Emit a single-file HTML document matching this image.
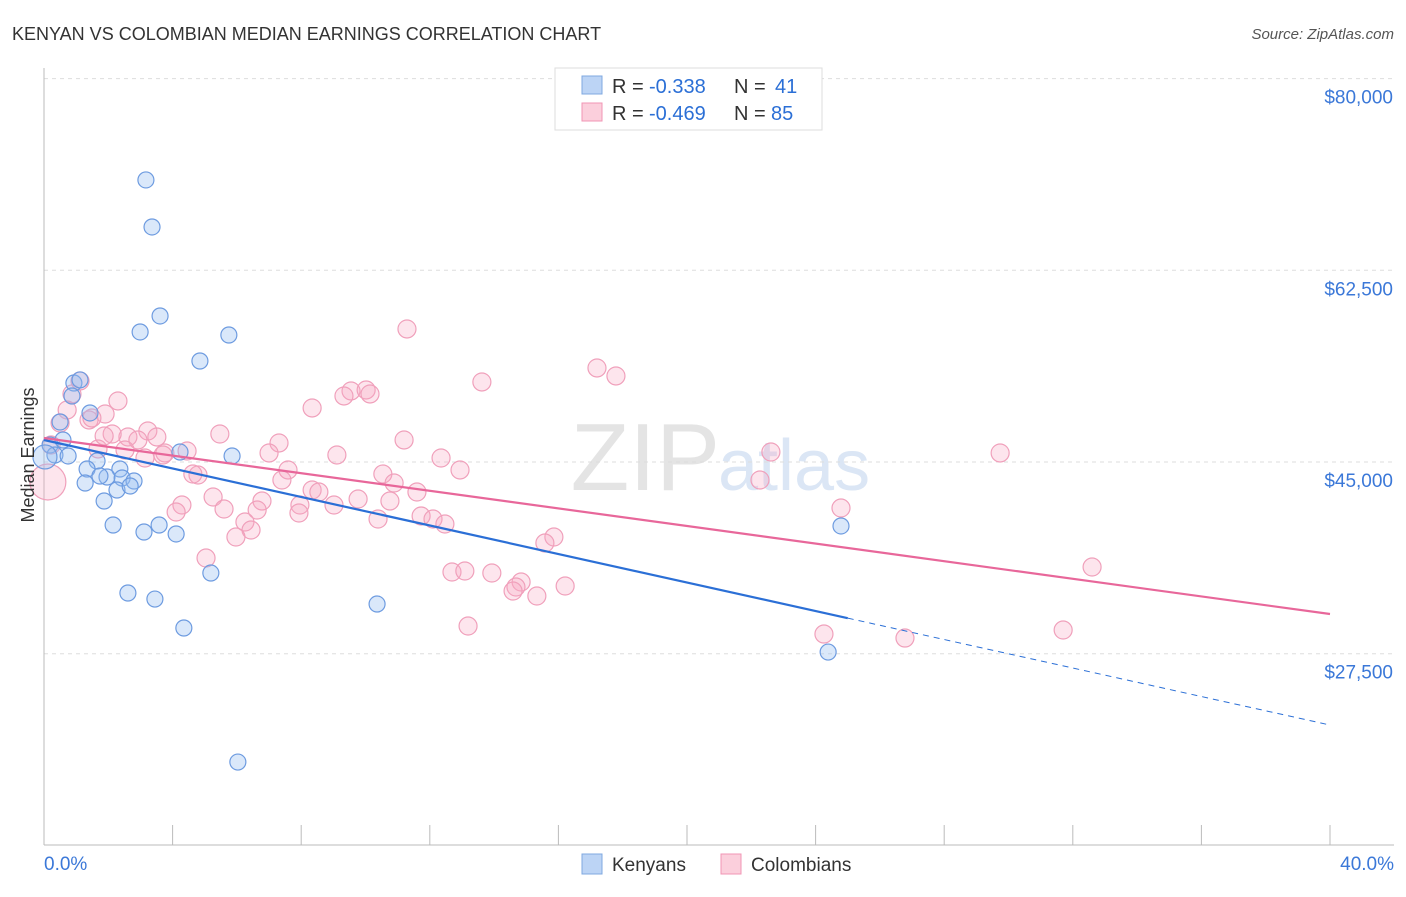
<!DOCTYPE html>
<html><head><meta charset="utf-8"><style>
body{margin:0;background:#fff;font-family:"Liberation Sans",sans-serif;}
svg text{font-family:"Liberation Sans",sans-serif;}
</style></head><body>
<svg id="c" width="1406" height="892" xmlns="http://www.w3.org/2000/svg">
<text x="12" y="40" font-size="18" fill="#333">KENYAN VS COLOMBIAN MEDIAN EARNINGS CORRELATION CHART</text>
<text x="1394" y="39" font-size="15" fill="#555" text-anchor="end" font-style="italic">Source: ZipAtlas.com</text>
<text x="720" y="490" font-size="96" fill="#e4e4e4" text-anchor="end" font-family="Liberation Serif">ZIP</text>
<text x="718" y="490" font-size="72" fill="#dbe6f5">atlas</text>
<g id="grid"></g><g id="axes"></g><g id="marks"></g>
<text transform="translate(34,455) rotate(-90)" font-size="18" fill="#333" text-anchor="middle">Median Earnings</text>
<g>
<rect x="555" y="68" width="267" height="62" fill="#fff" stroke="#ddd"/>
<rect x="582" y="76" width="20" height="18" fill="#bcd4f5" stroke="#7fa8e0"/>
<rect x="582" y="103" width="20" height="18" fill="#fbcfdc" stroke="#f095b4"/>
<text x="612" y="93" font-size="20" fill="#333">R =</text>
<text x="649" y="93" font-size="20" fill="#2b6fd6">-0.338</text>
<text x="734" y="93" font-size="20" fill="#333">N =</text>
<text x="775" y="93" font-size="20" fill="#2b6fd6">41</text>
<text x="612" y="120" font-size="20" fill="#333">R =</text>
<text x="649" y="120" font-size="20" fill="#2b6fd6">-0.469</text>
<text x="734" y="120" font-size="20" fill="#333">N =</text>
<text x="771" y="120" font-size="20" fill="#2b6fd6">85</text>
</g>
<g>
<rect x="582" y="854" width="20" height="20" fill="#bcd4f5" stroke="#7fa8e0"/>
<text x="612" y="871" font-size="19" fill="#333">Kenyans</text>
<rect x="721" y="854" width="20" height="20" fill="#fbcfdc" stroke="#f095b4"/>
<text x="751" y="871" font-size="19" fill="#333">Colombians</text>
</g>
</svg>
<script>
const yTicks=[80000,62500,45000,27500];
const yTickLabels=["$80,000","$62,500","$45,000","$27,500"];
const kenX=[3.17,3.36,3.61,2.99,5.75,4.85,0.93,1.12,0.87,1.43,0.50,0.19,0.59,0.34,0.75,4.23,5.85,1.65,1.34,2.36,1.28,1.96,2.43,2.80,1.74,2.27,2.68,1.87,2.15,3.11,3.58,4.11,5.19,2.61,3.45,4.35,10.36,6.03,24.79,24.39,0.03];
const kenY=[70747,66455,58330,56870,56595,54220,52210,52490,51025,49475,48650,46550,47010,45640,45550,45910,45550,45090,44360,44360,43080,43630,43540,43265,43720,42445,42810,41440,39250,38610,39250,38430,34865,33040,32490,29845,32035,17610,39160,27650,45460];
const colPx=[[407,329],[597,368],[616,376],[482,382],[351,391],[366,390],[344,396],[370,394],[312,408],[80,381],[72,394],[118,401],[67,410],[105,414],[89,420],[60,423],[92,418],[148,431],[220,434],[128,437],[112,434],[138,440],[157,437],[404,440],[279,443],[98,449],[125,450],[165,453],[187,451],[337,455],[441,458],[269,453],[771,452],[1000,453],[145,458],[288,470],[198,475],[193,474],[460,470],[383,474],[282,480],[394,483],[417,492],[312,490],[319,492],[358,499],[262,501],[213,497],[390,501],[300,505],[334,505],[182,505],[176,512],[224,509],[299,513],[257,510],[421,516],[378,519],[433,519],[445,524],[245,522],[251,530],[236,537],[206,558],[554,537],[545,543],[760,480],[841,508],[452,572],[465,571],[492,573],[521,582],[516,587],[513,591],[537,596],[565,586],[1092,567],[468,626],[824,634],[905,638],[1063,630],[48,482],[51,445],[163,455],[104,436]];
const colX=colPx.map(p=>+((p[0]-44)/32.15).toFixed(2));
const colY=colPx.map(p=>Math.round(45000+(462-p[1])*91.3));
const kenTrend=[47009,20988], kenSolidEnd=25.0;
const colTrend=[47191,31122];
const sx=p=>44+p/40*1286;
const sy=v=>462-(v-45000)/17500*191.7;
const NS="http://www.w3.org/2000/svg";
function mk(tag,attrs,parent){const e=document.createElementNS(NS,tag);for(const k in attrs)e.setAttribute(k,attrs[k]);document.getElementById(parent).appendChild(e);return e;}
yTicks.forEach((v,i)=>{
 const l=mk('line',{x1:44,x2:1394,y1:sy(v),y2:sy(v),stroke:'#ddd','stroke-dasharray':'4,4'},'grid');
 
 
 const t=mk('text',{x:1393,y:sy(v)+25,'font-size':19,fill:'#3b78d8','text-anchor':'end'},'axes');
 t.textContent=yTickLabels[i];
 
 
});
let a=mk('line',{x1:44,x2:44,y1:68,y2:845,stroke:'#bbb'},'axes');


a=mk('line',{x1:44,x2:1394,y1:845,y2:845,stroke:'#bbb'},'axes');


for(let p=0;p<=40;p+=4){const t=mk('line',{x1:sx(p),x2:sx(p),y1:825,y2:845,stroke:'#bbb'},'axes');
 
 }
[[0,"0.0%",'start',44],[40,"40.0%",'end',1394]].forEach(d=>{const t=mk('text',{x:d[3],y:870,'font-size':19,fill:'#3b78d8','text-anchor':d[2]},'axes');t.textContent=d[1];
 
 });
colX.forEach((x,i)=>{const r=(i==81)?18:9;const c=mk('circle',{cx:sx(x),cy:sy(colY[i]),r:r,fill:'rgba(247,170,195,0.3)',stroke:'#f0a0bb','stroke-width':1.2},'marks');
 
 });
kenX.forEach((x,i)=>{const r=(i==40)?12:8;const c=mk('circle',{cx:sx(x),cy:sy(kenY[i]),r:r,fill:'rgba(150,190,240,0.35)',stroke:'#6d9be0','stroke-width':1.2},'marks');
 
 });
const ky=p=>kenTrend[0]+(kenTrend[1]-kenTrend[0])*p/40;
let l=mk('line',{x1:sx(0),y1:sy(ky(0)),x2:sx(kenSolidEnd),y2:sy(ky(kenSolidEnd)),stroke:'#2b6fd6','stroke-width':2.2},'marks');


l=mk('line',{x1:sx(kenSolidEnd),y1:sy(ky(kenSolidEnd)),x2:sx(40),y2:sy(ky(40)),stroke:'#2b6fd6','stroke-width':1,'stroke-dasharray':'6,5'},'marks');


l=mk('line',{x1:sx(0),y1:sy(colTrend[0]),x2:sx(40),y2:sy(colTrend[1]),stroke:'#e8679a','stroke-width':2.2},'marks');


</script>
</body></html>
